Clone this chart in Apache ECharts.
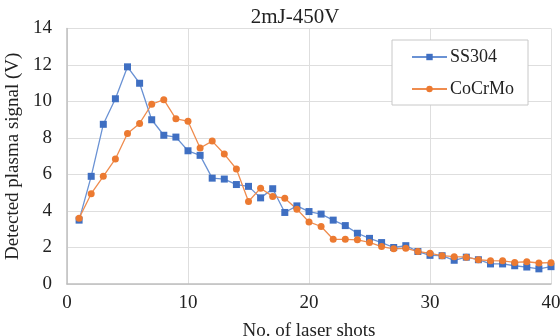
<!DOCTYPE html>
<html>
<head>
<meta charset="utf-8">
<script src="https://cdn.jsdelivr.net/npm/echarts@6/dist/echarts.min.js"></script>
<style>html,body{margin:0;padding:0;background:#fff}#c{width:560px;height:336px}</style>
</head>
<body>
<div id="c"></div>
<script>
const shots = [1,2,3,4,5,6,7,8,9,10,11,12,13,14,15,16,17,18,19,20,21,22,23,24,25,26,27,28,29,30,31,32,33,34,35,36,37,38,39,40];
const ss304 = [3.5,5.9,8.75,10.15,11.9,11.0,9.0,8.15,8.05,7.3,7.05,5.8,5.75,5.45,5.35,4.72,5.22,3.92,4.28,3.97,3.83,3.5,3.2,2.78,2.5,2.27,2.0,2.1,1.78,1.57,1.55,1.3,1.47,1.33,1.1,1.1,1.0,0.93,0.83,0.95];
const cocrmo = [3.6,4.95,5.9,6.85,8.25,8.8,9.85,10.1,9.05,8.92,7.45,7.83,7.12,6.3,4.52,5.25,4.8,4.7,4.1,3.4,3.15,2.45,2.45,2.42,2.28,2.05,1.93,1.96,1.78,1.68,1.55,1.5,1.47,1.33,1.28,1.27,1.18,1.22,1.15,1.17];
const xTicks = [0,10,20,30,40];
const yTicks = [0,2,4,6,8,10,12,14];
const titleText = '2mJ-450V';
const xName = 'No. of laser shots';
const yName = 'Detected plasma signal (V)';
const seriesNames = ['SS304','CoCrMo'];

const FONT = '"Liberation Serif","Times New Roman",serif';
const chart = echarts.init(document.getElementById('c'), null, {renderer:'canvas'});
const pair = (xs, ys) => xs.map((x,i)=>[x, ys[i]]);
chart.setOption({
  animation:false,
  backgroundColor:'#fff',
  textStyle:{fontFamily:FONT,color:'#222'},
  title:{text:titleText,left:290,top:2,textAlign:'center',
    textStyle:{fontFamily:FONT,fontSize:21,fontWeight:'normal',color:'#222'}},
  grid:{left:67,right:9,top:28.5,bottom:52,containLabel:false,outerBoundsMode:'none'},
  legend:{orient:'vertical',left:392,top:40,padding:[8,14,7,19],itemGap:14,
    itemWidth:35,itemHeight:8,backgroundColor:'#fff',borderColor:'#c8c8c8',borderWidth:1,
    textStyle:{fontFamily:FONT,fontSize:18,color:'#222',padding:[0,0,0,-2]},
    data:seriesNames},
  xAxis:{type:'value',min:xTicks[0],max:xTicks[xTicks.length-1],interval:10,
    name:xName,nameLocation:'middle',nameGap:38,
    nameTextStyle:{fontFamily:FONT,fontSize:19,color:'#222'},
    axisLine:{show:true,lineStyle:{color:'#bfbfbf',width:1.5}},
    axisTick:{show:false},
    axisLabel:{fontFamily:FONT,fontSize:19,color:'#222',margin:10},
    splitLine:{show:true,lineStyle:{color:'#dedede',width:1}}},
  yAxis:{type:'value',min:yTicks[0],max:yTicks[yTicks.length-1],interval:2,
    name:yName,nameLocation:'middle',nameGap:41,
    nameTextStyle:{fontFamily:FONT,fontSize:19,color:'#222'},
    axisLine:{show:true,lineStyle:{color:'#bfbfbf',width:1.5}},
    axisTick:{show:false},
    axisLabel:{fontFamily:FONT,fontSize:19,color:'#222',margin:15},
    splitLine:{show:true,lineStyle:{color:'#dedede',width:1}}},
  series:[
    {name:seriesNames[0],type:'line',data:pair(shots,ss304),symbol:'rect',symbolSize:7,
     lineStyle:{color:'#6a92d4',width:1.3},itemStyle:{color:'#3f6fc2'}},
    {name:seriesNames[1],type:'line',data:pair(shots,cocrmo),symbol:'circle',symbolSize:7,
     lineStyle:{color:'#ef8c4e',width:1.3},itemStyle:{color:'#ec7a31'}}
  ]
});
</script>
</body>
</html>
